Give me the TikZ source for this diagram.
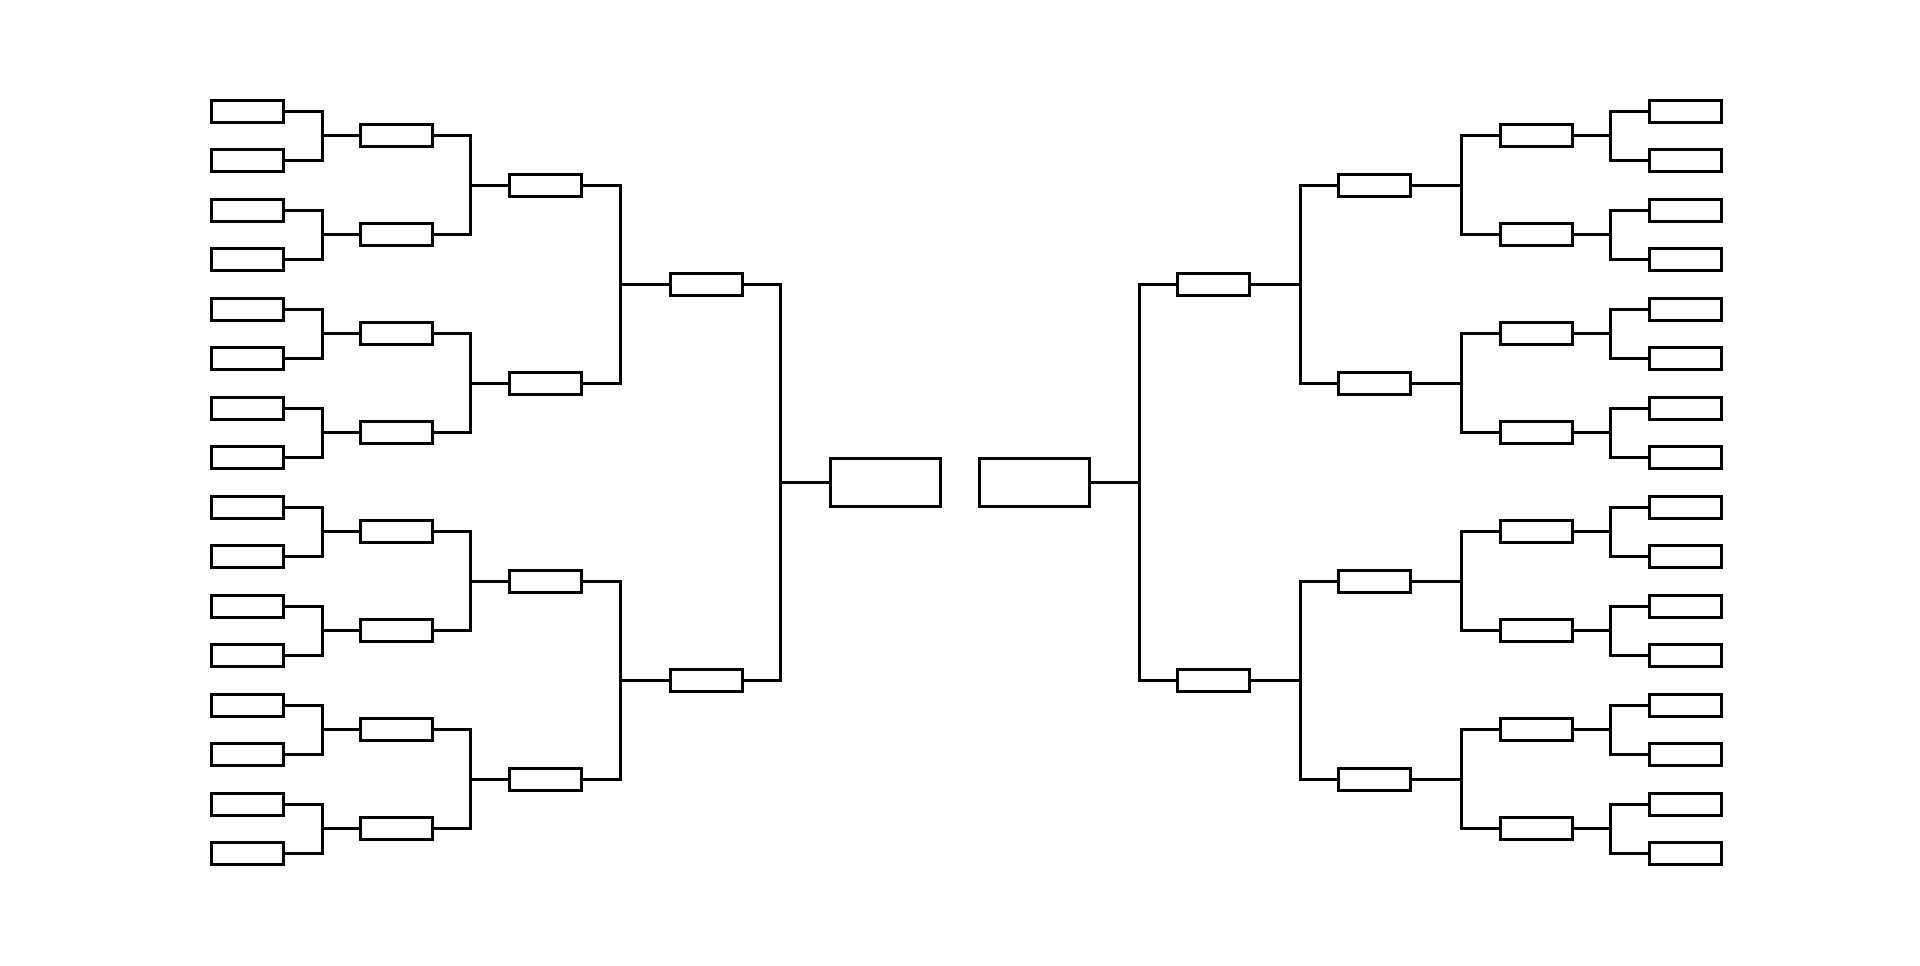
\documentclass[tikz,border=0pt]{standalone}
\begin{document}
\begin{tikzpicture}[x=1pt,y=-1pt,
  box/.style={draw=black, rectangle, inner sep=0pt, outer sep=0pt, minimum width=72pt, minimum height=22pt, line width=2.8pt},
  bigbox/.style={box, minimum width=110pt, minimum height=48pt},
  link/.style={draw=black, line width=2.8pt}]
\useasboundingbox (0,0) rectangle (1920,966);
\fill[white] (0,0) rectangle (1920,966);
% ---------- left half ----------
\foreach \k in {0,...,15} \node[box] (L1-\k) at (247.5,{floor(111+49.5*\k)+0.5}) {};
\foreach \k in {0,...,7} \node[box] (L2-\k) at (396.5,{135.5+99*\k}) {};
\foreach \k in {0,...,3} \node[box] (L3-\k) at (545.5,{185.5+198*\k}) {};
\foreach \k in {0,1} \node[box] (L4-\k) at (706.5,{284.5+396*\k}) {};
\node[bigbox] (LF) at (885.5,482.5) {};
% ---------- right half ----------
\foreach \k in {0,...,15} \node[box] (R1-\k) at (1685.5,{floor(111+49.5*\k)+0.5}) {};
\foreach \k in {0,...,7} \node[box] (R2-\k) at (1536.5,{135.5+99*\k}) {};
\foreach \k in {0,...,3} \node[box] (R3-\k) at (1374.5,{185.5+198*\k}) {};
\foreach \k in {0,1} \node[box] (R4-\k) at (1213.5,{284.5+396*\k}) {};
\node[bigbox] (RF) at (1034.5,482.5) {};
% ---------- connectors ----------
\foreach \k in {0,...,7} {
  \pgfmathtruncatemacro{\a}{2*\k}\pgfmathtruncatemacro{\b}{2*\k+1}
  \coordinate (LJ1-\k) at (322.5,{135.5+99*\k});
  \draw[link] (L1-\a.east) -| (LJ1-\k) |- (L1-\b.east);
  \draw[link] (LJ1-\k) -- (L2-\k.west);
  \coordinate (RJ1-\k) at (1610.5,{135.5+99*\k});
  \draw[link] (R1-\a.west) -| (RJ1-\k) |- (R1-\b.west);
  \draw[link] (RJ1-\k) -- (R2-\k.east);
}
\foreach \k in {0,...,3} {
  \pgfmathtruncatemacro{\a}{2*\k}\pgfmathtruncatemacro{\b}{2*\k+1}
  \coordinate (LJ2-\k) at (470.5,{185.5+198*\k});
  \draw[link] (L2-\a.east) -| (LJ2-\k) |- (L2-\b.east);
  \draw[link] (LJ2-\k) -- (L3-\k.west);
  \coordinate (RJ2-\k) at (1461.5,{185.5+198*\k});
  \draw[link] (R2-\a.west) -| (RJ2-\k) |- (R2-\b.west);
  \draw[link] (RJ2-\k) -- (R3-\k.east);
}
\foreach \k in {0,1} {
  \pgfmathtruncatemacro{\a}{2*\k}\pgfmathtruncatemacro{\b}{2*\k+1}
  \coordinate (LJ3-\k) at (620.5,{284.5+396*\k});
  \draw[link] (L3-\a.east) -| (LJ3-\k) |- (L3-\b.east);
  \draw[link] (LJ3-\k) -- (L4-\k.west);
  \coordinate (RJ3-\k) at (1300.5,{284.5+396*\k});
  \draw[link] (R3-\a.west) -| (RJ3-\k) |- (R3-\b.west);
  \draw[link] (RJ3-\k) -- (R4-\k.east);
}
\coordinate (LJ4) at (780.5,482.5);
\draw[link] (L4-0.east) -| (LJ4) |- (L4-1.east);
\draw[link] (LJ4) -- (LF.west);
\coordinate (RJ4) at (1139.5,482.5);
\draw[link] (R4-0.west) -| (RJ4) |- (R4-1.west);
\draw[link] (RJ4) -- (RF.east);
\end{tikzpicture}
\end{document}
